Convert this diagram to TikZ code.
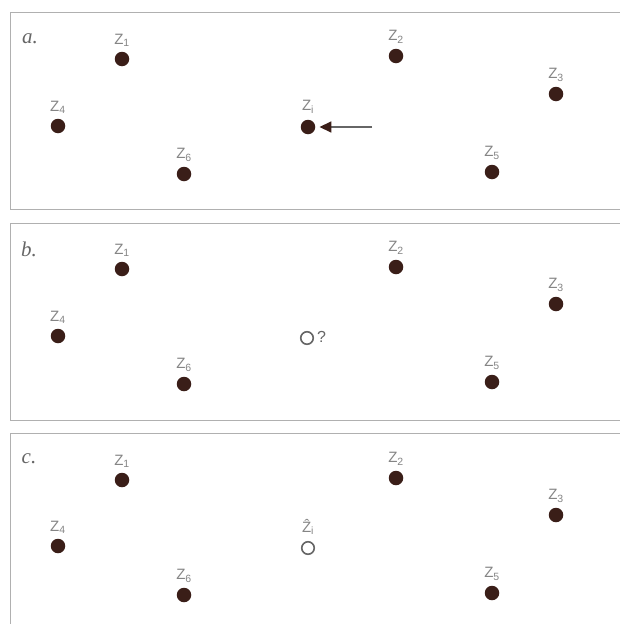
\documentclass[tikz,border=0pt]{standalone}
\usepackage{fontspec}
\setmainfont{Liberation Sans}
\newfontfamily\panelfont{Liberation Serif}
\usetikzlibrary{arrows.meta}
\definecolor{dotcol}{HTML}{3A1E18}
\definecolor{labcol}{HTML}{858585}
\definecolor{framecol}{HTML}{B0B0B0}
\definecolor{ringcol}{HTML}{666666}
\tikzset{
  dot/.style={circle,fill=dotcol,inner sep=0pt,minimum size=14.5pt},
  ring/.style={circle,draw=ringcol,line width=1.6pt,inner sep=0pt,minimum size=12.5pt},
  zlab/.style={text=labcol,font=\fontsize{15}{15}\selectfont,inner sep=0pt},
  plab/.style={text=ringcol,font=\panelfont\itshape\fontsize{21}{21}\selectfont,inner sep=0pt},
  frame/.style={draw=framecol,line width=1.3pt},
  pointer/.style={draw=ringcol,line width=1.6pt,shorten >=4pt,-{Triangle[length=12pt,width=11pt,color=dotcol]}}
}
\newcommand{\zsub}[1]{Z\textsubscript{#1}}
\begin{document}
\begin{tikzpicture}[x=1pt,y=-1pt]
\useasboundingbox (0,0) rectangle (620,624);
\fill[white] (0,0) rectangle (620,624);
% frames
\node[frame,draw,rectangle,minimum width=630pt,minimum height=197pt,anchor=north west,inner sep=0pt] (fa) at (9.5,12) {};
\node[frame,draw,rectangle,minimum width=630pt,minimum height=197pt,anchor=north west,inner sep=0pt] (fb) at (9.5,222.5) {};
\node[frame,draw,rectangle,minimum width=630pt,minimum height=210pt,anchor=north west,inner sep=0pt] (fc) at (9.5,433) {};
% ---------- panel a
\node[plab] (pa) at (30,39) {a.};
\node[dot] (a1) at (122,59) {};  \node[zlab] (la1) at (122,40) {\zsub{1}};
\node[dot] (a2) at (396,56) {};  \node[zlab] (la2) at (396,37) {\zsub{2}};
\node[dot] (a3) at (556,94) {};  \node[zlab] (la3) at (556,75) {\zsub{3}};
\node[dot] (a4) at (58,126) {};  \node[zlab] (la4) at (58,107) {\zsub{4}};
\node[dot] (ai) at (308,127) {}; \node[zlab] (lai) at (308,107) {\zsub{i}};
\node[dot] (a6) at (184,174) {}; \node[zlab] (la6) at (184,155) {\zsub{6}};
\node[dot] (a5) at (492,172) {}; \node[zlab] (la5) at (492,153) {\zsub{5}};
\coordinate (arrstart) at (372,127);
\draw[pointer] (arrstart) -- (ai);
% ---------- panel b
\node[plab] (pb) at (29,249) {b.};
\node[dot] (b1) at (122,269) {};  \node[zlab] (lb1) at (122,250) {\zsub{1}};
\node[dot] (b2) at (396,267) {};  \node[zlab] (lb2) at (396,248) {\zsub{2}};
\node[dot] (b3) at (556,304) {};  \node[zlab] (lb3) at (556,285) {\zsub{3}};
\node[dot] (b4) at (58,336) {};   \node[zlab] (lb4) at (58,317) {\zsub{4}};
\node[ring] (bi) at (307,338) {};
\node[zlab,text=ringcol,anchor=west,font=\fontsize{16}{16}\selectfont] (qb) at (317,337) {?};
\node[dot] (b6) at (184,384) {};  \node[zlab] (lb6) at (184,365) {\zsub{6}};
\node[dot] (b5) at (492,382) {};  \node[zlab] (lb5) at (492,363) {\zsub{5}};
% ---------- panel c
\node[plab] (pc) at (29,459) {c.};
\node[dot] (c1) at (122,480) {};  \node[zlab] (lc1) at (122,461) {\zsub{1}};
\node[dot] (c2) at (396,478) {};  \node[zlab] (lc2) at (396,459) {\zsub{2}};
\node[dot] (c3) at (556,515) {};  \node[zlab] (lc3) at (556,496) {\zsub{3}};
\node[dot] (c4) at (58,546) {};   \node[zlab] (lc4) at (58,527) {\zsub{4}};
\node[ring] (ci) at (308,548) {};
\node[zlab] (lci) at (308,527) {\^{Z}\textsubscript{i}};
\node[dot] (c6) at (184,595) {};  \node[zlab] (lc6) at (184,576) {\zsub{6}};
\node[dot] (c5) at (492,593) {};  \node[zlab] (lc5) at (492,574) {\zsub{5}};
\end{tikzpicture}
\end{document}
